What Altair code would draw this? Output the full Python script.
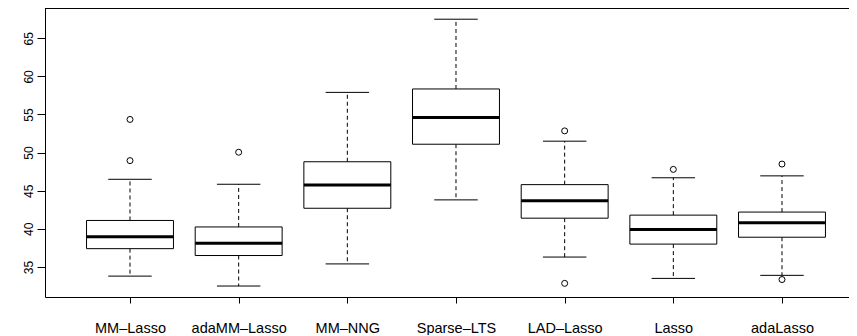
import altair as alt
import pandas as pd

methods = ["MM–Lasso", "adaMM–Lasso", "MM–NNG", "Sparse–LTS", "LAD–Lasso", "Lasso", "adaLasso"]
lower_whisker = [33.8, 32.5, 35.4, 43.8, 36.3, 33.5, 33.9]
q1 = [37.4, 36.5, 42.7, 51.1, 41.4, 38.0, 38.9]
median = [38.95, 38.1, 45.75, 54.6, 43.7, 39.9, 40.8]
q3 = [41.1, 40.25, 48.8, 58.35, 45.8, 41.8, 42.2]
upper_whisker = [46.5, 45.85, 57.9, 67.5, 51.5, 46.7, 46.95]

outlier_method = ["MM–Lasso", "MM–Lasso", "adaMM–Lasso", "LAD–Lasso", "LAD–Lasso", "Lasso", "adaLasso", "adaLasso"]
outlier_value = [48.95, 54.35, 50.05, 52.85, 32.85, 47.8, 48.5, 33.35]

y_ticks = [35, 40, 45, 50, 55, 60, 65]

W, H = 804, 289
FONT = "Liberation Sans"

stats = pd.DataFrame({
    "method": methods,
    "idx": list(range(1, len(methods) + 1)),
    "lo": lower_whisker, "q1": q1, "med": median, "q3": q3, "hi": upper_whisker,
})
outl = pd.DataFrame({
    "method": outlier_method,
    "idx": [methods.index(m) + 1 for m in outlier_method],
    "value": outlier_value,
})

label_expr = "[" + ",".join("'%s'" % m for m in methods) + "][datum.value - 1]"

xscale = alt.Scale(domain=[0.2178, 7.6166], nice=False, zero=False)
yscale = alt.Scale(domain=[31.06, 68.97], nice=False, zero=False)

xaxis = alt.Axis(values=list(range(1, 8)), labelExpr=label_expr, title=None,
                 grid=False, tickSize=6, labelPadding=29, labelBaseline="alphabetic",
                 labelFontSize=14.5, labelFont=FONT, labelColor="black",
                 domainColor="black", tickColor="black", labelOverlap=False,
                 labelFlush=False)
yaxis = alt.Axis(values=y_ticks, title=None, grid=False, tickSize=8,
                 labelAngle=270, labelAlign="center", labelBaseline="alphabetic",
                 labelPadding=4.5, labelFontSize=12, labelFont=FONT,
                 labelColor="black", domainColor="black", tickColor="black")

base = alt.Chart(stats).transform_calculate(
    xl="datum.idx - 0.4", xr="datum.idx + 0.4",
    cl="datum.idx - 0.2", cr="datum.idx + 0.2",
)

x_main = alt.X("idx:Q", scale=xscale, axis=xaxis)

whisk_up = base.mark_rule(color="black", strokeWidth=1, strokeDash=[4, 3]).encode(
    x=x_main, y=alt.Y("q3:Q", scale=yscale, axis=yaxis), y2="hi:Q")
whisk_dn = base.mark_rule(color="black", strokeWidth=1, strokeDash=[4, 3]).encode(
    x="idx:Q", y="q1:Q", y2="lo:Q")
cap_up = base.mark_rule(color="black", strokeWidth=1).encode(
    x="cl:Q", x2="cr:Q", y="hi:Q")
cap_dn = base.mark_rule(color="black", strokeWidth=1).encode(
    x="cl:Q", x2="cr:Q", y="lo:Q")
box = base.mark_rect(fill="white", stroke="black", strokeWidth=1).encode(
    x="xl:Q", x2="xr:Q", y="q1:Q", y2="q3:Q")
med = base.mark_rule(color="black", strokeWidth=3).encode(
    x="xl:Q", x2="xr:Q", y="med:Q")
pts = alt.Chart(outl).mark_point(shape="circle", filled=False, size=36,
                                 stroke="black", strokeWidth=1, opacity=1).encode(
    x="idx:Q", y="value:Q")
top = alt.Chart(stats).mark_rule(color="black", strokeWidth=1).encode(
    x=alt.value(0), x2=alt.value(W + 8), y=alt.value(0))

chart = alt.layer(whisk_up, whisk_dn, cap_up, cap_dn, box, med, pts, top).properties(
    width=W, height=H,
    autosize=alt.AutoSizeParams(type="none"),
    padding={"left": 37, "top": 0, "right": 0, "bottom": 38},
).configure_view(stroke=None).configure(background="white")

chart.save("out.html", embed_options={"renderer": "svg", "actions": False})
